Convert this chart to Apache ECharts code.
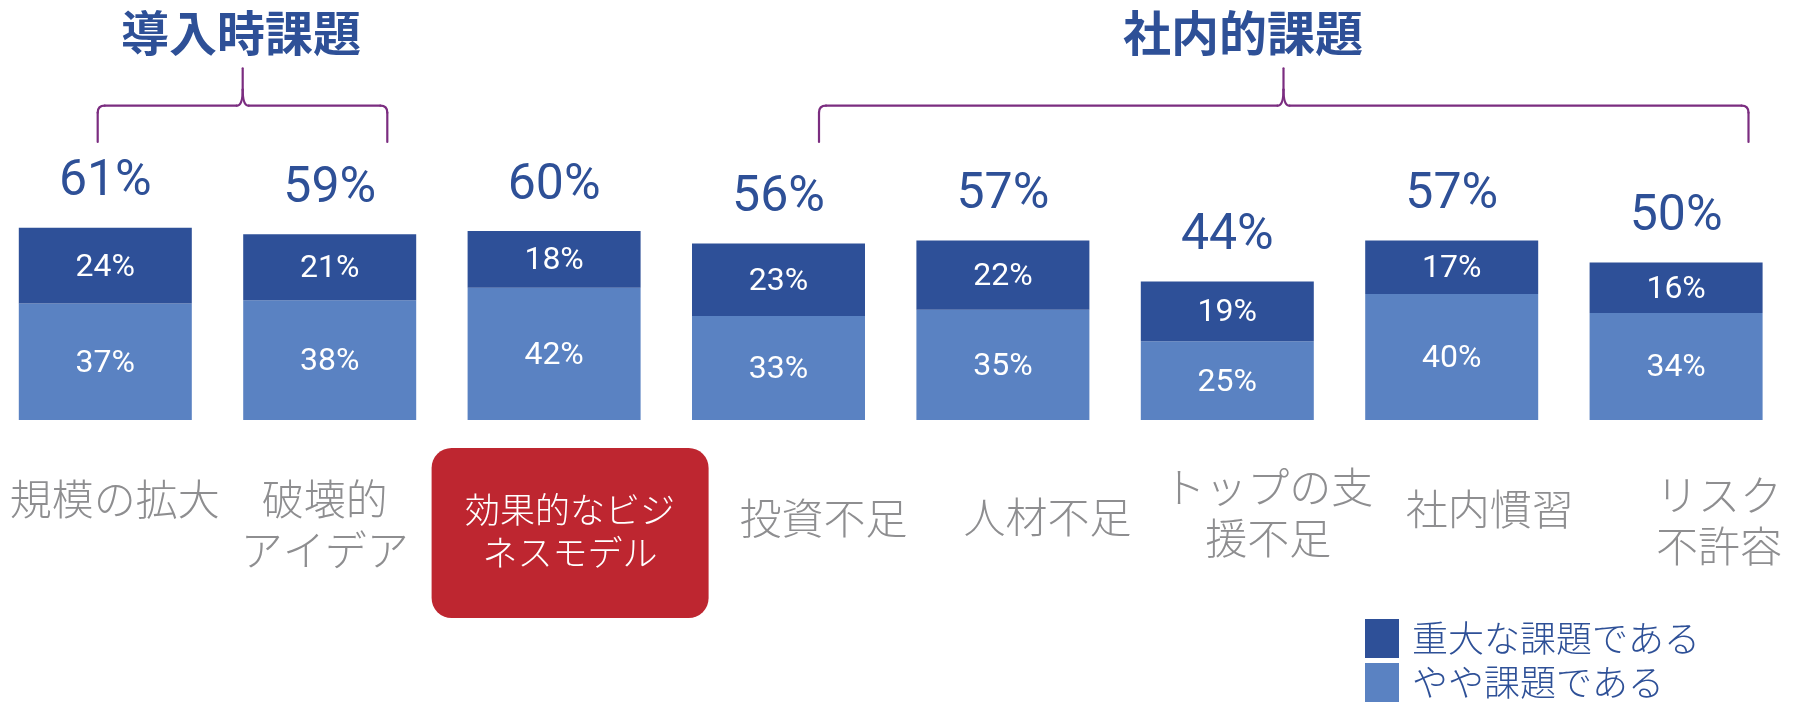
<!DOCTYPE html>
<html>
<head>
<meta charset="utf-8">
<script src="https://cdn.jsdelivr.net/npm/echarts@6/dist/echarts.min.js"></script>
<style>
html,body{margin:0;padding:0;background:#fff;}
#chart{width:1802px;height:706px;}
</style>
</head>
<body>
<div id="chart"></div>
<script>
// ---- data ----
const categories = ['規模の拡大', '破壊的\nアイデア', '効果的なビジ\nネスモデル', '投資不足', '人材不足', 'トップの支\n援不足', '社内慣習', 'リスク\n不許容'];
const majorIssue = [24, 21, 18, 23, 22, 19, 17, 16];   // 重大な課題である
const someIssue  = [37, 38, 42, 33, 35, 25, 40, 34];   // やや課題である
const totals     = [61, 59, 60, 56, 57, 44, 57, 50];
const seriesNames = ['重大な課題である', 'やや課題である'];
const groupTitles = ['導入時課題', '社内的課題'];
const highlightIndex = 2;

// ---- styles ----
const DARK = '#2E5098', LIGHT = '#5A82C2', BLUE = '#2E5097', GRAY = '#8E8E90', RED = '#BE2630', PURPLE = '#7B2D80';
const JP = '"Noto Sans CJK JP", sans-serif';
const NUM = 'Roboto, "Noto Sans", sans-serif';
// per-category label padding [top, right, bottom, left]
const labelPads = [
  [53.5, 0, 0, 19],
  [53.5, 10, 0, 0],
  [28, 0, 0, 0],
  [72.5, 0, 0, 90],
  [71.5, 0, 0, 89],
  [41.5, 0, 0, 82],
  [63.5, 0, 0, 76],
  [49.5, 0, 0, 86]
];

function brace(xl, xm, xr, yH, yTop, yBottom, r) {
  const s = {stroke: PURPLE, lineWidth: 2.2, fill: null, lineCap: 'round'};
  const els = [];
  const line = (x1, y1, x2, y2) => els.push({type: 'line', shape: {x1, y1, x2, y2}, style: s, silent: true});
  const curve = (x1, y1, cx, cy, x2, y2) => els.push({type: 'bezierCurve', shape: {x1, y1, cpx1: cx, cpy1: cy, x2, y2}, style: s, silent: true});
  line(xl, yBottom, xl, yH + r);
  curve(xl, yH + r, xl, yH, xl + r, yH);
  line(xl + r, yH, xm - 6, yH);
  curve(xm - 6, yH, xm, yH, xm, yH - 16);
  line(xm, yH - 16, xm, yTop);
  curve(xm, yH - 16, xm, yH, xm + 6, yH);
  line(xm + 6, yH, xr - r, yH);
  curve(xr - r, yH, xr, yH, xr, yH + r);
  line(xr, yH + r, xr, yBottom);
  return els;
}

const titleStyle = (text, x) => ({
  type: 'text', x: x, y: 33, silent: true,
  style: {text: text, fill: BLUE, fontSize: 48, fontWeight: 'bold', fontFamily: JP, align: 'center', verticalAlign: 'middle'}
});

const chart = echarts.init(document.getElementById('chart'), null, {renderer: 'canvas'});
const option = {
  animation: false,
  backgroundColor: '#fff',
  grid: {left: -6.9, right: 13.7, top: 105, bottom: 286, containLabel: false, outerBoundsMode: 'none'},
  legend: {
    data: seriesNames,
    orient: 'vertical',
    left: 1365, top: 619,
    padding: 0,
    itemWidth: 34, itemHeight: 39, itemGap: 5,
    icon: 'rect',
    selectedMode: false,
    textStyle: {fontSize: 36, lineHeight: 36, color: BLUE, fontFamily: JP, fontWeight: 300, padding: [3, 0, 0, 8]}
  },
  xAxis: {
    type: 'category',
    data: categories.map((c, i) => ({value: c, textStyle: {padding: labelPads[i]}})),
    axisLine: {show: false},
    axisTick: {show: false},
    axisLabel: {
      interval: 0,
      margin: 0,
      fontSize: 42,
      lineHeight: 51,
      color: GRAY,
      fontFamily: JP,
      fontWeight: 300,
      formatter: function (value, index) {
        if (index === highlightIndex) {
          return value.split('\n').map((l, k) => '{sp| }{b' + (k + 1) + '|' + l + '}').join('\n');
        }
        return value;
      },
      rich: {
        sp: {width: 32, fontSize: 10, lineHeight: 10},
        b1: {width: 277, height: 43, lineHeight: 83, padding: [40, 0, 0, 0], backgroundColor: RED, borderRadius: [20, 20, 0, 0],
             color: '#fff', fontSize: 35, fontFamily: JP, fontWeight: 300, align: 'center'},
        b2: {width: 277, height: 43, lineHeight: 87, padding: [0, 0, 44, 0], backgroundColor: RED, borderRadius: [0, 0, 20, 20],
             color: '#fff', fontSize: 35, fontFamily: JP, fontWeight: 300, align: 'center'}
      }
    }
  },
  yAxis: {type: 'value', min: 0, max: 100, show: false, splitLine: {show: false}},
  series: [
    {
      name: seriesNames[1], type: 'bar', stack: 'total', data: someIssue, barWidth: 173, barGap: '-100%',
      itemStyle: {color: LIGHT},
      label: {show: true, position: 'inside', offset: [0, 2], formatter: '{c}%', color: '#fff', fontSize: 32, fontFamily: NUM}
    },
    {
      name: seriesNames[0], type: 'bar', stack: 'total', data: majorIssue, barWidth: 173, barGap: '-100%',
      itemStyle: {color: DARK},
      label: {show: true, position: 'inside', offset: [0, 2], formatter: '{c}%', color: '#fff', fontSize: 32, fontFamily: NUM}
    },
    {
      name: 'total', type: 'bar', data: totals, barWidth: 173, barGap: '-100%', silent: true,
      itemStyle: {color: 'rgba(0,0,0,0)'},
      label: {show: true, position: 'top', distance: 20, formatter: '{c}%', color: BLUE, fontSize: 50, fontFamily: NUM}
    }
  ],
  graphic: [].concat(
    brace(97.7, 242.7, 387.3, 105.7, 68.3, 142, 7),
    brace(819, 1283.5, 1748.5, 105.7, 68.3, 142, 7),
    [titleStyle(groupTitles[0], 241), titleStyle(groupTitles[1], 1243)]
  )
};
chart.setOption(option);
</script>
</body>
</html>
